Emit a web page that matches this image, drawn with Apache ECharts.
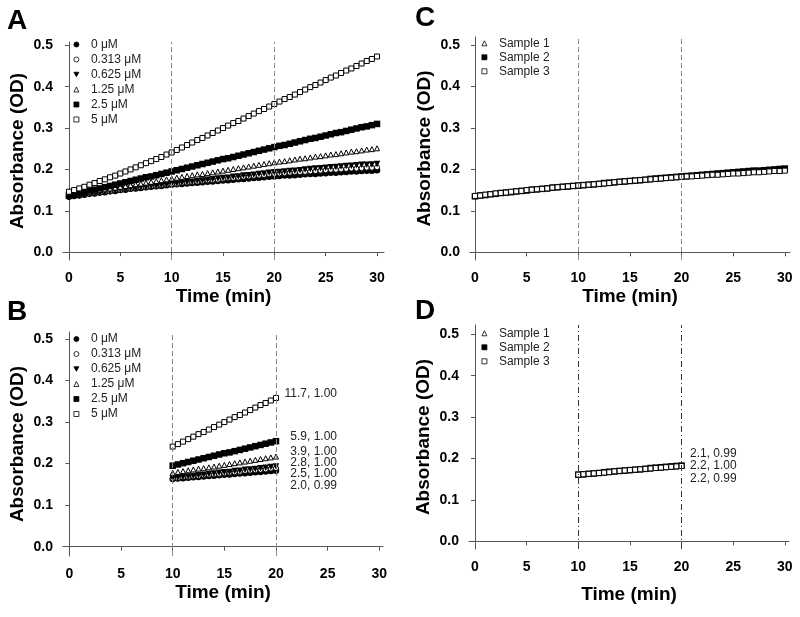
<!DOCTYPE html>
<html>
<head>
<meta charset="utf-8">
<script src="https://cdn.jsdelivr.net/npm/echarts@6/dist/echarts.min.js"></script>
<style>html,body{margin:0;padding:0;background:#fff}#c{width:800px;height:617px}</style>
</head>
<body>
<div id="c"></div>
<script>
// ---- data ----
const times = [0,0.5,1,1.5,2,2.5,3,3.5,4,4.5,5,5.5,6,6.5,7,7.5,8,8.5,9,9.5,10,10.5,11,11.5,12,12.5,13,13.5,14,14.5,15,15.5,16,16.5,17,17.5,18,18.5,19,19.5,20,20.5,21,21.5,22,22.5,23,23.5,24,24.5,25,25.5,26,26.5,27,27.5,28,28.5,29,29.5,30];

const concNames = ['0 \u03bcM','0.313 \u03bcM','0.625 \u03bcM','1.25 \u03bcM','2.5 \u03bcM','5 \u03bcM'];
const conc0 = [0.134,0.136,0.137,0.139,0.141,0.142,0.144,0.145,0.147,0.148,0.150,0.151,0.153,0.154,0.155,0.157,0.158,0.159,0.160,0.162,0.163,0.164,0.165,0.166,0.167,0.168,0.169,0.170,0.171,0.172,0.173,0.174,0.175,0.176,0.177,0.178,0.179,0.180,0.181,0.182,0.183,0.184,0.185,0.185,0.186,0.187,0.188,0.189,0.189,0.190,0.191,0.192,0.192,0.193,0.194,0.195,0.195,0.196,0.197,0.197,0.198];
const conc0313 = [0.135,0.137,0.138,0.140,0.141,0.143,0.144,0.146,0.147,0.149,0.150,0.152,0.153,0.155,0.156,0.157,0.159,0.160,0.161,0.163,0.164,0.165,0.167,0.168,0.169,0.170,0.172,0.173,0.174,0.175,0.177,0.178,0.179,0.180,0.182,0.183,0.184,0.185,0.186,0.188,0.189,0.190,0.191,0.192,0.193,0.193,0.194,0.195,0.196,0.197,0.198,0.199,0.199,0.200,0.201,0.202,0.202,0.203,0.204,0.204,0.205];
const conc0625 = [0.134,0.136,0.137,0.139,0.140,0.142,0.143,0.145,0.147,0.148,0.150,0.151,0.153,0.154,0.156,0.157,0.159,0.160,0.162,0.163,0.165,0.166,0.168,0.169,0.170,0.172,0.173,0.175,0.176,0.178,0.179,0.180,0.182,0.183,0.185,0.186,0.187,0.189,0.190,0.192,0.193,0.194,0.195,0.196,0.197,0.198,0.200,0.201,0.202,0.203,0.204,0.205,0.206,0.207,0.208,0.209,0.210,0.211,0.211,0.212,0.213];
const conc125 = [0.138,0.140,0.142,0.144,0.146,0.148,0.150,0.152,0.154,0.156,0.158,0.160,0.162,0.164,0.166,0.168,0.170,0.172,0.174,0.176,0.178,0.180,0.182,0.184,0.186,0.188,0.189,0.191,0.193,0.195,0.197,0.199,0.201,0.203,0.205,0.207,0.209,0.211,0.213,0.215,0.217,0.219,0.220,0.222,0.224,0.226,0.227,0.229,0.231,0.232,0.234,0.236,0.237,0.239,0.241,0.243,0.244,0.246,0.248,0.249,0.251];
const conc25 = [0.137,0.140,0.143,0.146,0.149,0.151,0.154,0.157,0.160,0.163,0.166,0.169,0.172,0.175,0.178,0.181,0.183,0.186,0.189,0.192,0.195,0.198,0.201,0.204,0.207,0.210,0.213,0.216,0.219,0.222,0.225,0.227,0.230,0.233,0.236,0.239,0.242,0.245,0.248,0.251,0.254,0.257,0.259,0.262,0.265,0.268,0.271,0.274,0.276,0.279,0.282,0.285,0.288,0.290,0.293,0.296,0.299,0.302,0.304,0.307,0.310];
const conc5 = [0.146,0.150,0.154,0.158,0.163,0.167,0.172,0.176,0.181,0.185,0.190,0.195,0.200,0.205,0.210,0.215,0.220,0.225,0.230,0.236,0.241,0.247,0.253,0.259,0.265,0.271,0.276,0.282,0.288,0.294,0.300,0.306,0.312,0.317,0.323,0.329,0.335,0.341,0.346,0.352,0.358,0.364,0.370,0.375,0.381,0.387,0.393,0.399,0.404,0.410,0.416,0.422,0.427,0.433,0.439,0.444,0.450,0.456,0.462,0.467,0.473];

const sampleNames = ['Sample 1','Sample 2','Sample 3'];
const sample1 = [0.136,0.138,0.139,0.141,0.142,0.143,0.145,0.146,0.147,0.149,0.150,0.151,0.152,0.154,0.155,0.156,0.157,0.158,0.159,0.160,0.161,0.162,0.163,0.164,0.165,0.166,0.167,0.169,0.170,0.171,0.172,0.173,0.174,0.175,0.176,0.177,0.178,0.179,0.180,0.181,0.182,0.183,0.184,0.185,0.186,0.187,0.188,0.189,0.190,0.191,0.192,0.193,0.194,0.195,0.196,0.197,0.198,0.199,0.199,0.200,0.201];
const sample2 = [0.135,0.137,0.138,0.140,0.141,0.143,0.144,0.145,0.147,0.148,0.149,0.151,0.152,0.153,0.154,0.156,0.157,0.158,0.159,0.160,0.161,0.162,0.163,0.164,0.165,0.167,0.168,0.169,0.170,0.171,0.172,0.173,0.174,0.175,0.177,0.178,0.179,0.180,0.181,0.182,0.183,0.184,0.185,0.186,0.187,0.188,0.189,0.190,0.191,0.192,0.193,0.194,0.195,0.196,0.197,0.197,0.198,0.199,0.200,0.201,0.202];
const sample3 = [0.136,0.137,0.139,0.140,0.142,0.143,0.144,0.146,0.147,0.148,0.150,0.151,0.152,0.153,0.154,0.156,0.157,0.158,0.159,0.160,0.161,0.162,0.163,0.164,0.165,0.166,0.167,0.169,0.170,0.171,0.172,0.173,0.174,0.175,0.176,0.177,0.178,0.179,0.180,0.181,0.182,0.183,0.183,0.184,0.185,0.186,0.187,0.187,0.188,0.189,0.190,0.190,0.191,0.192,0.193,0.193,0.194,0.195,0.196,0.196,0.197];

const xTicks = [0,5,10,15,20,25,30];
const yTicks = [0,0.1,0.2,0.3,0.4,0.5];
const windowLines = [10,20];
const windowStart = 10, windowEnd = 20;
const fitLabelsB = ['11.7, 1.00','5.9, 1.00','3.9, 1.00','2.8, 1.00','2.5, 1.00','2.0, 0.99'];
const fitLabelsD = ['2.1, 0.99','2.2, 1.00','2.2, 0.99'];

// ---- chart ----
const FONT = '"Liberation Sans", Arial, Helvetica, sans-serif';
const concSeries = [conc0, conc0313, conc0625, conc125, conc25, conc5];
const concStyle = [
  {symbol:'circle', fill:true, rot:0},
  {symbol:'circle', fill:false, rot:0},
  {symbol:'triangle', fill:true, rot:180},
  {symbol:'triangle', fill:false, rot:0},
  {symbol:'rect', fill:true, rot:0},
  {symbol:'rect', fill:false, rot:0}
];
const sampleSeries = [sample1, sample2, sample3];
const sampleStyle = [
  {symbol:'triangle', fill:false, rot:0},
  {symbol:'rect', fill:true, rot:0},
  {symbol:'rect', fill:false, rot:0}
];
const DOWN_TRI = 'path://M0,0L10,0L5,9Z';

const grids = [
  {left:63, top:42, width:321, height:218},
  {left:63, top:332, width:320, height:224},
  {left:470, top:37, width:320, height:223},
  {left:469, top:325, width:320, height:224}
];
const xr = [[-0.58,30.68],[-0.62,30.36],[-0.48,30.5],[-0.58,30.4]];
const yr = [[-0.019,0.508],[-0.0224,0.5169],[-0.0186,0.5193],[-0.0186,0.5225]];
const xNameGap = [27,27,27,36];

const xAxes = grids.map((g,i)=>({
  type:'value', gridIndex:i, min:xr[i][0], max:xr[i][1],
  name:'Time (min)', nameLocation:'middle', nameGap:xNameGap[i],
  nameTextStyle:{fontFamily:FONT, fontWeight:'bold', fontSize:19, color:'#000'},
  axisLine:{show:true, lineStyle:{color:'#555', width:1}},
  axisTick:{show:true, length:4, customValues:xTicks, lineStyle:{color:'#555'}},
  axisLabel:{customValues:xTicks, fontFamily:FONT, fontWeight:'bold', fontSize:14, color:'#000', margin:11},
  splitLine:{show:false}
}));
const yAxes = grids.map((g,i)=>({
  type:'value', gridIndex:i, min:yr[i][0], max:yr[i][1],
  name:'Absorbance (OD)', nameLocation:'middle', nameGap:36, nameRotate:90,
  nameTextStyle:{fontFamily:FONT, fontWeight:'bold', fontSize:19, color:'#000'},
  axisLine:{show:true, lineStyle:{color:'#555', width:1}},
  axisTick:{show:true, length:4, customValues:yTicks, lineStyle:{color:'#555'}},
  axisLabel:{customValues:yTicks, fontFamily:FONT, fontWeight:'bold', fontSize:14, color:'#000', margin:10,
    formatter:v=>v.toFixed(1)},
  splitLine:{show:false}
}));

function makeSeries(name, vals, st, gi, inWindow){
  const data = [];
  times.forEach((t,k)=>{
    if(!inWindow || (t>=windowStart && t<=windowEnd)) data.push([t, vals[k]]);
  });
  return {
    type:'scatter', name:name, xAxisIndex:gi, yAxisIndex:gi, data:data,
    symbol:st.symbol, symbolSize:st.fill?6.5:5, symbolRotate:st.rot,
    itemStyle:{color:st.fill?'#000':'#fff', borderColor:'#000', borderWidth:st.fill?0:1, opacity:1},
    emphasis:{disabled:true}, silent:true, z:3
  };
}
const series = [];
[0,1].forEach(gi=>{
  concSeries.forEach((vals,k)=>series.push(makeSeries(concNames[k], vals, concStyle[k], gi, gi===1)));
});
[2,3].forEach(gi=>{
  sampleSeries.forEach((vals,k)=>series.push(makeSeries(sampleNames[k], vals, sampleStyle[k], gi, gi===3)));
});
// dashed window lines on the first series of each panel
[0,6,12,15].forEach((si,gi)=>{
  series[si].markLine = {
    symbol:'none', silent:true, label:{show:false}, animation:false,
    lineStyle:{type:gi===3?[6,3,1,3]:[5,3], color:gi===3?'#333':'#888', width:1},
    data: windowLines.map(v=>({xAxis:v}))
  };
});

function legend(names, styles, left, top, lh){
  return {
    data:names.map((n,k)=>styles[k].rot===180 ? {name:n, icon:DOWN_TRI} : {name:n}),
    orient:'vertical', left:left, top:top, padding:0, itemGap:0,
    itemWidth:5, itemHeight:5, selectedMode:false,
    itemStyle:{borderWidth:0.8},
    textStyle:{fontFamily:FONT, fontSize:12, color:'#222', lineHeight:lh, padding:[0,0,0,7]}
  };
}

const graphics = [];
[['A',7,21.5],['B',7,312],['C',415,18],['D',415,311]].forEach(([t,x,y])=>{
  graphics.push({type:'text', left:x, top:y-14, style:{text:t, fontFamily:FONT, fontWeight:'bold', fontSize:28, fill:'#000'}});
});
const yB = [394,436.7,451.7,463,474,485.7];
fitLabelsB.forEach((t,k)=>graphics.push({type:'text', x:337, y:yB[k],
  style:{text:t, fontFamily:FONT, fontSize:12, fill:'#222', textAlign:'right', textVerticalAlign:'middle'}}));
const yD = [453.3,465.7,478.3];
fitLabelsD.forEach((t,k)=>graphics.push({type:'text', x:736.7, y:yD[k],
  style:{text:t, fontFamily:FONT, fontSize:12, fill:'#222', textAlign:'right', textVerticalAlign:'middle'}}));

const chart = echarts.init(document.getElementById('c'), null, {renderer:'canvas'});
chart.setOption({
  animation:false,
  backgroundColor:'#fff',
  grid:grids,
  xAxis:xAxes,
  yAxis:yAxes,
  legend:[
    legend(concNames, concStyle, 73.5, 37, 15),
    legend(concNames, concStyle, 73.5, 331.5, 15),
    legend(sampleNames, sampleStyle, 481.5, 36.3, 14),
    legend(sampleNames, sampleStyle, 481.5, 326.3, 14)
  ],
  graphic:graphics,
  series:series
});
</script>
</body>
</html>
